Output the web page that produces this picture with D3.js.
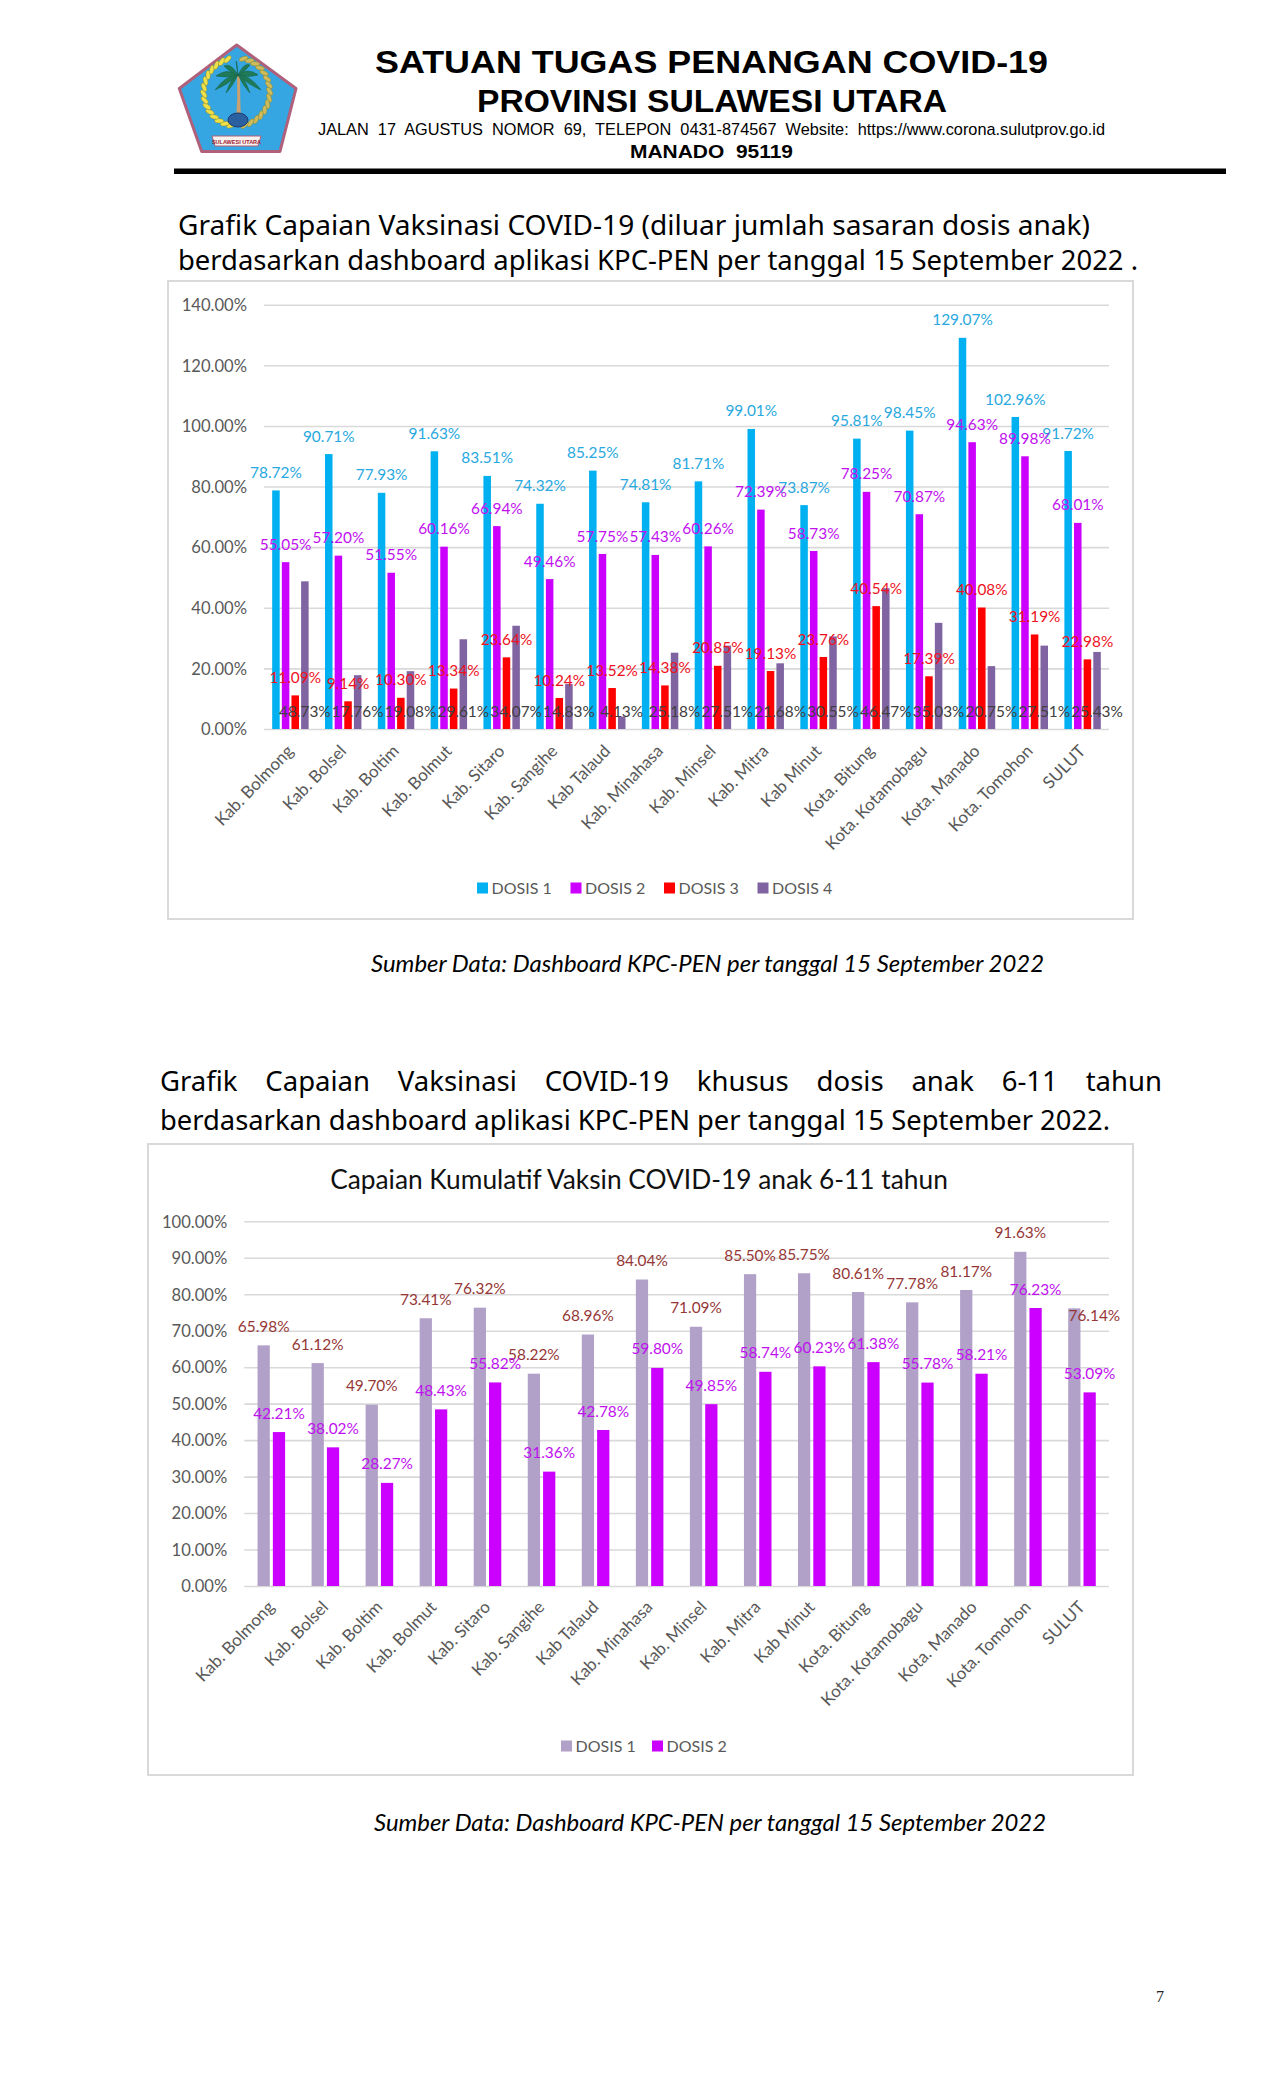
<!DOCTYPE html>
<html><head><meta charset="utf-8">
<script src="https://cdn.jsdelivr.net/npm/d3@7/dist/d3.min.js"></script>
<style>
html,body{margin:0;padding:0;background:#fff}
svg{display:block}
text{font-family:Lato,"Open Sans",sans-serif}
</style></head><body>
<svg id="page" width="1275" height="2100"></svg>
<script>
// ---- data ----
const regions = ["Kab. Bolmong","Kab. Bolsel","Kab. Boltim","Kab. Bolmut","Kab. Sitaro","Kab. Sangihe","Kab Talaud","Kab. Minahasa","Kab. Minsel","Kab. Mitra","Kab Minut","Kota. Bitung","Kota. Kotamobagu","Kota. Manado","Kota. Tomohon","SULUT"];
const dosis1 = [78.72,90.71,77.93,91.63,83.51,74.32,85.25,74.81,81.71,99.01,73.87,95.81,98.45,129.07,102.96,91.72];
const dosis2 = [55.05,57.20,51.55,60.16,66.94,49.46,57.75,57.43,60.26,72.39,58.73,78.25,70.87,94.63,89.98,68.01];
const dosis3 = [11.09,9.14,10.30,13.34,23.64,10.24,13.52,14.38,20.85,19.13,23.76,40.54,17.39,40.08,31.19,22.98];
const dosis4 = [48.73,17.76,19.08,29.61,34.07,14.83,4.13,25.18,27.51,21.68,30.55,46.47,35.03,20.75,27.51,25.43];
const anakDosis1 = [65.98,61.12,49.70,73.41,76.32,58.22,68.96,84.04,71.09,85.50,85.75,80.61,77.78,81.17,91.63,76.14];
const anakDosis2 = [42.21,38.02,28.27,48.43,55.82,31.36,42.78,59.80,49.85,58.74,60.23,61.38,55.78,58.21,76.23,53.09];
const ticks1 = [0,20,40,60,80,100,120,140];
const ticks2 = [0,10,20,30,40,50,60,70,80,90,100];

const svg = d3.select("#page");
const SANS = 'Lato,"Open Sans",sans-serif';
const TAHOMA = '"Noto Sans","Open Sans",sans-serif';
const ARIAL = '"Liberation Sans",Arial,sans-serif';
const pct = v => v.toFixed(2) + "%";

function fitText(str, x0, x1, y, size, family, opts = {}) {
  return svg.append("text").attr("x", x0).attr("y", y)
    .attr("textLength", x1 - x0).attr("lengthAdjust", "spacingAndGlyphs")
    .attr("font-size", size).attr("fill", opts.fill || "#000")
    .attr("font-weight", opts.weight || "normal")
    .attr("font-style", opts.style || "normal")
    .style("font-family", family).style("white-space", "pre").text(str);
}
function justifyText(str, x0, x1, y, size, family) {
  const t = svg.append("text").attr("x", x0).attr("y", y).attr("font-size", size)
    .style("font-family", family).attr("fill", "#000").text(str);
  const gaps = str.split(" ").length - 1;
  t.attr("word-spacing", (x1 - x0 - t.node().getComputedTextLength()) / gaps);
}

// ---- letterhead ----
function drawLogo() {
  const g = svg.append("g");
  g.append("path").attr("d", "M236.7,45 L296,88.5 L280,151.5 L201.7,151.5 L179.3,88.5 Z")
    .attr("fill", "#35a6e2").attr("stroke", "#b0607a").attr("stroke-width", 3).attr("stroke-linejoin", "round");
  const wreath = (cx, cy, rx, ry, a0, a1, col) => {
    d3.range(a0, a1, 11).forEach(a => {
      const r = a * Math.PI / 180;
      const px = cx + rx * Math.cos(r), py = cy + ry * Math.sin(r);
      g.append("ellipse").attr("cx", px).attr("cy", py)
        .attr("rx", 4.6).attr("ry", 2.2).attr("fill", col).attr("stroke", "#7d7a20").attr("stroke-width", .4)
        .attr("transform", `rotate(${a + 60} ${px} ${py})`);
    });
  };
  wreath(236.7, 92, 33, 34, 100, 262, "#eee04a");
  wreath(236.7, 92, 33, 34, -78, 80, "#cdbb5c");
  // palm
  g.append("path").attr("d", "M236,121 Q238,98 237,76 L240,76 Q240,98 241,121 Z").attr("fill", "#c9a070");
  [[215,90],[216,76],[224,66],[236,61],[250,65],[258,75],[261,90],[226,93],[250,93]].forEach(([ex, ey]) => {
    const mx = (238 + ex) / 2, my = (75 + ey) / 2;
    g.append("path").attr("d", `M238,75 Q${mx},${my - 8} ${ex},${ey} Q${mx},${my + 3} 238,75 Z`)
      .attr("fill", "#1f7a58").attr("stroke", "#176046").attr("stroke-width", .5);
  });
  g.append("ellipse").attr("cx", 238).attr("cy", 120).attr("rx", 10).attr("ry", 7)
    .attr("fill", "#2a5fa0").attr("stroke", "#1d3b70");
  g.append("path").attr("d", "M212,136 L261,136 L258,146 L215,146 Z").attr("fill", "#f7f2ee").attr("stroke", "#b0607a");
  g.append("text").attr("x", 236.5).attr("y", 143.5).attr("text-anchor", "middle").attr("font-size", 5.5)
    .attr("font-weight", "bold").attr("fill", "#a02030").style("font-family", ARIAL).text("SULAWESI UTARA");
}
drawLogo();
fitText("SATUAN TUGAS PENANGAN COVID-19", 375, 1048, 73, 32, ARIAL, {weight: "bold"});
fitText("PROVINSI SULAWESI UTARA", 477, 947, 112, 32, ARIAL, {weight: "bold"});
fitText("JALAN  17  AGUSTUS  NOMOR  69,  TELEPON  0431-874567  Website:  https://www.corona.sulutprov.go.id", 318, 1105, 135, 17, ARIAL);
fitText("MANADO  95119", 630, 793, 158, 19, ARIAL, {weight: "bold"});
svg.append("rect").attr("x", 174).attr("y", 168.5).attr("width", 1052).attr("height", 5.5).attr("fill", "#000");

fitText("Grafik Capaian Vaksinasi COVID-19 (diluar jumlah sasaran dosis anak)", 178, 1090, 235, 27.5, TAHOMA);
fitText("berdasarkan dashboard aplikasi KPC-PEN per tanggal 15 September 2022 .", 178, 1138, 270, 27.5, TAHOMA);
fitText("Sumber Data: Dashboard KPC-PEN per tanggal 15 September 2022", 371, 1044, 972, 23.5, SANS, {style: "italic"});

justifyText("Grafik Capaian Vaksinasi COVID-19 khusus dosis anak 6-11 tahun", 160, 1162, 1091, 27.5, TAHOMA);
fitText("berdasarkan dashboard aplikasi KPC-PEN per tanggal 15 September 2022.", 160, 1110, 1130, 27.5, TAHOMA);
fitText("Sumber Data: Dashboard KPC-PEN per tanggal 15 September 2022", 374, 1046, 1831, 23.5, SANS, {style: "italic"});
svg.append("text").attr("x", 1156).attr("y", 2002).attr("font-size", 16)
  .style("font-family", '"Liberation Serif",serif').attr("fill", "#222").text("7");

// ---- charts ----
function drawChart(cfg) {
  const {box, plot, series, ticks, yMax} = cfg;
  svg.append("rect").attr("x", box[0]).attr("y", box[1]).attr("width", box[2] - box[0]).attr("height", box[3] - box[1])
    .attr("fill", "#fff").attr("stroke", "#d9d9d9").attr("stroke-width", 2);

  const x = d3.scaleBand().domain(regions).range([plot.left, plot.right])
    .paddingInner(cfg.groupPad).paddingOuter(cfg.groupPad / 2);
  const sub = d3.scaleBand().domain(series.map(s => s.name)).range([0, x.bandwidth()]).paddingInner(cfg.barPad);
  const y = d3.scaleLinear().domain([0, yMax]).range([plot.bottom, plot.top]);

  // gridlines and tick labels
  const yAxis = svg.append("g").attr("transform", `translate(${plot.left},0)`)
    .call(d3.axisLeft(y).tickValues(ticks).tickSize(-(plot.right - plot.left)).tickPadding(17).tickFormat(d => d.toFixed(2) + "%"));
  yAxis.select(".domain").remove();
  yAxis.selectAll("line").attr("stroke", "#d9d9d9").attr("stroke-width", 1.6);
  yAxis.selectAll("text").attr("fill", "#595959").attr("font-size", cfg.tickSize).attr("dy", "0.35em").style("font-family", SANS);

  // category labels
  const xAxis = svg.append("g").attr("transform", `translate(0,${plot.bottom})`)
    .call(d3.axisBottom(x).tickSize(0).tickFormat(d => d));
  xAxis.select(".domain").remove();
  xAxis.selectAll("text").attr("fill", "#595959").attr("font-size", cfg.catSize).style("font-family", SANS)
    .attr("text-anchor", "end").attr("dy", 0).attr("y", 0)
    .attr("transform", `translate(4,${cfg.catDrop}) rotate(-46)`);

  // bars
  series.forEach(s => {
    svg.append("g").selectAll("rect").data(s.values).join("rect")
      .attr("x", (d, i) => x(regions[i]) + sub(s.name))
      .attr("width", sub.bandwidth())
      .attr("y", d => y(d))
      .attr("height", d => plot.bottom - y(d))
      .attr("fill", s.color);
  });
  // value labels, on top of every bar
  series.forEach(s => {
    svg.append("g").selectAll("text").data(s.values).join("text")
      .attr("x", (d, i) => x(regions[i]) + sub(s.name) + sub.bandwidth() / 2 + (s.shift && s.shift.index === i ? s.shift.dx : 0))
      .attr("y", (d, i) => (s.fixedLabelY != null ? s.fixedLabelY : y(d) - cfg.labelGap) + (s.shift && s.shift.index === i ? s.shift.dy : 0))
      .attr("dy", "0.36em").attr("text-anchor", "middle")
      .attr("font-size", cfg.labelSize).attr("fill", s.labelColor).style("font-family", SANS)
      .text(pct);
  });
  // legend
  series.forEach((s, i) => {
    const lx = cfg.legendX[i];
    svg.append("rect").attr("x", lx).attr("y", cfg.legendY - 11.5).attr("width", 11).attr("height", 11).attr("fill", s.color);
    svg.append("text").attr("x", lx + 14.5).attr("y", cfg.legendY).attr("font-size", cfg.legendSize)
      .attr("fill", "#595959").style("font-family", SANS).text(s.name);
  });
}

drawChart({
  box: [168, 281, 1133, 919],
  plot: {left: 264, right: 1109, top: 304.7, bottom: 729},
  yMax: 140, ticks: ticks1, groupPad: .31, barPad: .22,
  tickSize: 16.6, catSize: 17, catDrop: 23, labelSize: 15.4, labelGap: 18,
  legendX: [477, 570.5, 664, 757.5], legendY: 894, legendSize: 16,
  series: [
    {name: "DOSIS 1", values: dosis1, color: "#00b0f0", labelColor: "#28a8e0"},
    {name: "DOSIS 2", values: dosis2, color: "#cc00ff", labelColor: "#c010f0"},
    {name: "DOSIS 3", values: dosis3, color: "#ff0000", labelColor: "#ee1122"},
    {name: "DOSIS 4", values: dosis4, color: "#8064a2", labelColor: "#404040", fixedLabelY: 711}
  ]
});

drawChart({
  box: [148, 1144, 1133, 1775],
  plot: {left: 244.3, right: 1109, top: 1221.3, bottom: 1586},
  yMax: 100, ticks: ticks2, groupPad: .49, barPad: .2,
  tickSize: 16.6, catSize: 17, catDrop: 22, labelSize: 15.4, labelGap: 19,
  legendX: [561, 652], legendY: 1752, legendSize: 16,
  series: [
    {name: "DOSIS 1", values: anakDosis1, color: "#b1a0c7", labelColor: "#953735", shift: {index: 15, dx: 20, dy: 26}},
    {name: "DOSIS 2", values: anakDosis2, color: "#cc00ff", labelColor: "#c010f0"}
  ]
});

svg.append("text").attr("x", 639).attr("y", 1189).attr("text-anchor", "middle")
  .attr("font-size", 26.3).attr("fill", "#111").style("font-family", SANS)
  .text("Capaian Kumulatif Vaksin COVID-19 anak 6-11 tahun");
</script>
</body></html>
